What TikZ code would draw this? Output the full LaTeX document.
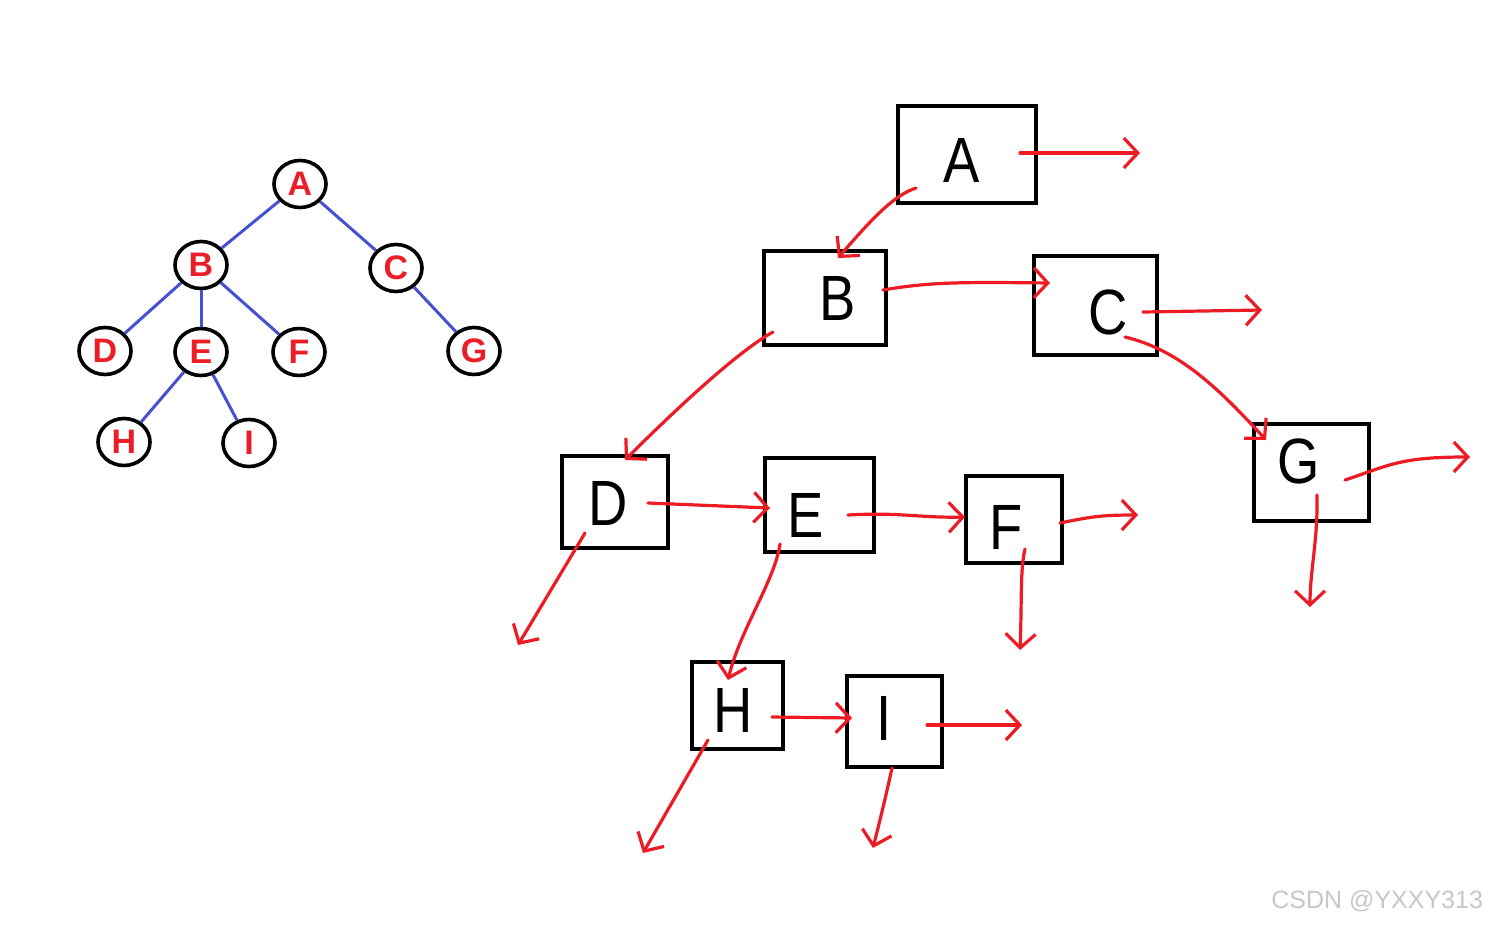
\documentclass[tikz,border=0pt]{standalone}
\usepackage{fontspec}
\setmainfont{Liberation Sans}
\usetikzlibrary{arrows.meta,shapes.geometric}
\definecolor{tred}{RGB}{235,30,40}
\definecolor{tblue}{RGB}{70,80,210}
\definecolor{pred}{RGB}{237,28,36}
\tikzset{
  tnode/.style={ellipse,draw=black,line width=1.8pt,minimum width=26pt,minimum height=23.5pt,inner sep=0pt,text=tred,font=\bfseries\fontsize{17}{17}\selectfont},
  tedge/.style={draw=tblue,line width=1.5pt},
  lbox/.style={draw=black,line width=2pt,inner sep=0pt},
  hand/.style={font=\fontsize{32}{32}\selectfont,text=black,xscale=0.85},
  parr/.style={draw=pred,line width=1.6pt,line cap=round,-{Straight Barb[length=7pt,width=15pt,line width=1.6pt]}}
}
\begin{document}
\begin{tikzpicture}[x=0.5pt,y=-0.5pt]
\useasboundingbox (0,0) rectangle (1494,927);
% tree
\node[tnode] (tA) at (300,184) {A};
\node[tnode] (tB) at (201,265) {B};
\node[tnode] (tC) at (396,268) {C};
\node[tnode] (tD) at (105,351) {D};
\node[tnode] (tE) at (201,352) {E};
\node[tnode] (tF) at (299,352) {F};
\node[tnode] (tG) at (474,351) {G};
\node[tnode] (tH) at (124,442) {H};
\node[tnode] (tI) at (249,443) {I};
\path[tedge] (tA) -- (tB);
\path[tedge] (tA) -- (tC);
\path[tedge] (tB) -- (tD);
\path[tedge] (tB) -- (tE);
\path[tedge] (tB) -- (tF);
\path[tedge] (tC) -- (tG);
\path[tedge] (tE) -- (tH);
\path[tedge] (tE) -- (tI);
% boxes
\draw[lbox] (898,106) rectangle (1036,203);
\draw[lbox] (764,251) rectangle (886,345);
\draw[lbox] (1034,256) rectangle (1157,355);
\draw[lbox] (562,456) rectangle (668,548);
\draw[lbox] (765,458) rectangle (874,552);
\draw[lbox] (966,476) rectangle (1062,563);
\draw[lbox] (1254,424) rectangle (1369,521);
\draw[lbox] (692,662) rectangle (783,749);
\draw[lbox] (847,676) rectangle (942,767);
\node[hand] (lA) at (962,160) {A};
\node[hand] (lB) at (838,298) {B};
\node[hand] (lC) at (1108,312) {C};
\node[hand] (lD) at (608,503) {D};
\node[hand] (lE) at (806,515) {E};
\node[hand] (lF) at (1006,527) {F};
\node[hand] (lG) at (1299,461) {G};
\node[hand] (lH) at (733,710) {H};
\node[hand] (lI) at (884,718) {I};
% arrow coordinates
\coordinate (aR0) at (1020,153); \coordinate (aR1) at (1140,153);
\coordinate (aD0) at (916,188);  \coordinate (aD1) at (838,258);
\coordinate (bR0) at (883,290);  \coordinate (bR1) at (1050,283);
\coordinate (bD0) at (773,332);  \coordinate (bD1) at (625,460);
\coordinate (cR0) at (1143,312); \coordinate (cR1) at (1262,310);
\coordinate (cD0) at (1125,337); \coordinate (cD1) at (1266,440);
\coordinate (dR0) at (648,503);  \coordinate (dR1) at (770,508);
\coordinate (dD0) at (585,533);  \coordinate (dD1) at (518,645);
\coordinate (eR0) at (848,515);  \coordinate (eR1) at (965,517);
\coordinate (eD0) at (780,544);  \coordinate (eD1) at (728,680);
\coordinate (fR0) at (1060,523); \coordinate (fR1) at (1138,515);
\coordinate (fD0) at (1025,549); \coordinate (fD1) at (1020,650);
\coordinate (gR0) at (1345,480); \coordinate (gR1) at (1470,457);
\coordinate (gD0) at (1317,495); \coordinate (gD1) at (1310,607);
\coordinate (hR0) at (772,717);  \coordinate (hR1) at (852,718);
\coordinate (hD0) at (708,740);  \coordinate (hD1) at (643,853);
\coordinate (iR0) at (927,725);  \coordinate (iR1) at (1022,725);
\coordinate (iD0) at (892,768);  \coordinate (iD1) at (873,848);
\draw[parr] (aR0) -- (aR1);
\draw[parr] (aD0) .. controls (895,195) and (875,215) .. (aD1);
\draw[parr] (bR0) .. controls (930,282) and (960,282) .. (bR1);
\draw[parr] (bD0) .. controls (740,350) and (680,405) .. (bD1);
\draw[parr] (cR0) -- (cR1);
\draw[parr] (cD0) .. controls (1180,350) and (1220,390) .. (cD1);
\draw[parr] (dR0) -- (dR1);
\draw[parr] (dD0) -- (dD1);
\draw[parr] (eR0) .. controls (900,512) and (920,518) .. (eR1);
\draw[parr] (eD0) .. controls (775,580) and (740,630) .. (eD1);
\draw[parr] (fR0) .. controls (1090,517) and (1100,515) .. (fR1);
\draw[parr] (fD0) .. controls (1020,570) and (1022,600) .. (fD1);
\draw[parr] (gR0) .. controls (1390,465) and (1400,457) .. (gR1);
\draw[parr] (gD0) .. controls (1318,540) and (1310,570) .. (gD1);
\draw[parr] (hR0) -- (hR1);
\draw[parr] (hD0) -- (hD1);
\draw[parr] (iR0) -- (iR1);
\draw[parr] (iD0) .. controls (885,800) and (880,820) .. (iD1);
\node[text=black!22,font=\fontsize{12.5}{12.5}\selectfont,anchor=east] (wm) at (1490,901) {CSDN @YXXY313};
\end{tikzpicture}
\end{document}
